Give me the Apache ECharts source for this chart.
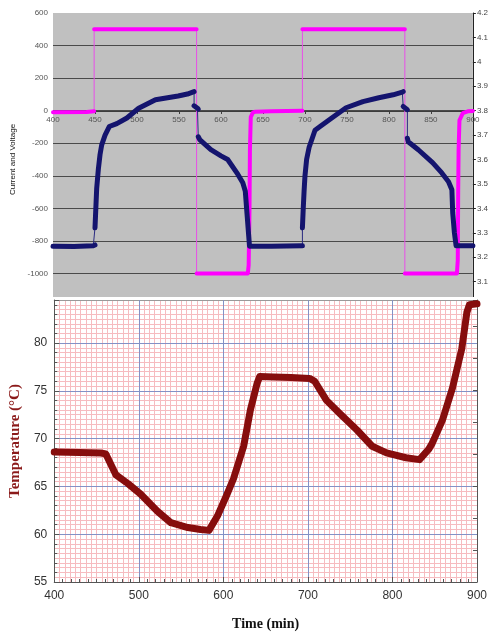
<!DOCTYPE html>
<html>
<head>
<meta charset="utf-8">
<script src="https://cdn.jsdelivr.net/npm/echarts@6/dist/echarts.min.js"></script>
<style>
  html, body { margin: 0; padding: 0; background: #fff; }
  #main { width: 491px; height: 632px; }
</style>
</head>
<body>
<div id="main"></div>
<script>
// top panel: current (mA, left axis) and cell voltage (V, right axis) vs time (min)
const currentTime = [400, 440, 449, 449, 571, 571, 632, 633, 634, 634.5,
  635.5, 638, 641, 660, 697, 697, 819, 819, 881, 882,
  882.5, 883, 884, 888, 894, 900];
const currentValue = [-10, -8, -3, 500, 500, -1000, -1000, -950, -600, -240,
  -40, -12, -6, -3, 0, 500, 500, -1000, -1000, -920,
  -500, -240, -60, -15, -4, -2];

const voltTime = [400, 425, 448, 450, 450, 451, 452, 454, 456, 458,
  462, 467, 476, 488, 502, 522, 549, 560, 568, 568,
  569, 572, 573, 573, 575, 588, 600, 608, 620, 626,
  629, 631, 633, 634, 660, 697, 697, 698, 699, 700,
  702, 705, 708, 712, 718, 734, 749, 769, 788, 805,
  816, 817, 817, 819, 822, 822, 823, 835, 852, 863,
  871, 875, 876, 878, 880, 900];
const voltValue = [3.245, 3.244, 3.247, 3.25, 3.32, 3.40, 3.48, 3.56, 3.62, 3.66,
  3.70, 3.735, 3.747, 3.77, 3.81, 3.845, 3.86, 3.868, 3.878, 3.82,
  3.818, 3.81, 3.806, 3.693, 3.68, 3.64, 3.615, 3.6, 3.54, 3.505,
  3.47, 3.38, 3.29, 3.245, 3.245, 3.247, 3.32, 3.40, 3.47, 3.53,
  3.6, 3.65, 3.68, 3.72, 3.735, 3.775, 3.812, 3.837, 3.853, 3.865,
  3.876, 3.878, 3.817, 3.81, 3.804, 3.687, 3.673, 3.64, 3.587, 3.545,
  3.509, 3.476, 3.381, 3.30, 3.247, 3.247];

// bottom panel: temperature (°C) vs time (min)
const tempTime = [400, 430, 455, 461, 467, 473, 487, 502, 522, 538,
  558, 573, 583, 593, 604, 612, 624, 632, 640, 643,
  659, 680, 702, 708, 722, 738, 758, 776, 793, 816,
  832, 843, 847, 859, 871, 882, 888, 891, 900];
const tempValue = [68.6, 68.55, 68.5, 68.4, 67.3, 66.2, 65.3, 64.2, 62.4, 61.2,
  60.7, 60.5, 60.4, 61.9, 64.1, 65.8, 69.2, 73.0, 75.8, 76.5,
  76.45, 76.4, 76.3, 76.0, 74.0, 72.6, 70.9, 69.2, 68.5, 68.0,
  67.8, 68.9, 69.5, 71.9, 75.3, 79.4, 83.2, 84.0, 84.1];

const sans = 'Liberation Sans, Arial, sans-serif';
const serif = 'Liberation Serif, Times New Roman, serif';

function pairs(ts, vs) {
  return ts.map((t, i) => [t, vs[i]]);
}

// dense marker runs look thick; instant jumps (same time twice) stay a thin line
function thickRuns(ts, vs) {
  const out = [];
  for (let i = 0; i < ts.length; i++) {
    if (i > 0 && ts[i] === ts[i - 1]) out.push([ts[i], null]);
    out.push([ts[i], vs[i]]);
  }
  return out;
}

const chart = echarts.init(document.getElementById('main'));

chart.setOption({
  animation: false,
  grid: [
    { left: 53, top: 13, width: 424, height: 293, show: true, backgroundColor: '#c0c0c0', borderWidth: 0 },
    { left: 53, top: 300, width: 424, height: 288 }
  ],
  graphic: [{
    type: 'rect', silent: true, z: 1,
    shape: { x: 0, y: 297, width: 491, height: 335 },
    style: { fill: '#fff' }
  }],
  xAxis: [
    {
      // sits on the zero line of the current axis
      gridIndex: 0, type: 'value', min: 400, max: 900, interval: 50, offset: -195,
      axisLine: { onZero: false, lineStyle: { color: '#3c3c3c' } },
      axisTick: { length: 3, lineStyle: { color: '#3c3c3c' } },
      axisLabel: { fontSize: 8, color: '#555', margin: 5, fontFamily: sans },
      splitLine: { show: false }
    },
    {
      // fine red graph-paper verticals
      gridIndex: 1, type: 'value', position: 'top', min: 400, max: 900, interval: 6.25, z: 2,
      axisLine: { show: true, onZero: false, lineStyle: { color: '#9a9a9a' } },
      axisTick: { show: false },
      axisLabel: { show: false },
      splitLine: { lineStyle: { color: '#f6bcc0', width: 1 } }
    },
    {
      gridIndex: 1, type: 'value', min: 400, max: 900, interval: 100, z: 3,
      axisLine: { onZero: false, lineStyle: { color: '#555' } },
      axisTick: { inside: true, length: 5, lineStyle: { color: '#555' } },
      minorTick: { show: true, splitNumber: 10, length: 3, lineStyle: { color: '#555' } },
      axisLabel: { fontSize: 12, color: '#333', margin: 8, fontFamily: sans },
      splitLine: { lineStyle: { color: '#8392c6', width: 1 } },
      name: 'Time (min)', nameLocation: 'middle', nameGap: 35,
      nameTextStyle: { fontFamily: serif, fontWeight: 'bold', fontSize: 14, color: '#111' }
    }
  ],
  yAxis: [
    {
      gridIndex: 0, type: 'value', min: -1200, max: 600, interval: 200,
      axisLine: { show: false },
      axisTick: { show: false },
      axisLabel: { fontSize: 8, color: '#555', margin: 5, fontFamily: sans, formatter: v => String(v) },
      splitLine: { showMaxLine: false, lineStyle: { color: '#4a4a4a', width: 1 } },
      name: 'Current and Voltage', nameLocation: 'middle', nameGap: 35,
      nameTextStyle: { fontSize: 8, color: '#111', fontFamily: sans }
    },
    {
      gridIndex: 0, type: 'value', position: 'right', min: 3.0, max: 4.2, interval: 0.1,
      axisLine: { show: true, lineStyle: { color: '#222' } },
      axisTick: { show: true, length: 3, lineStyle: { color: '#222' } },
      axisLabel: { fontSize: 8, color: '#444', margin: 4, fontFamily: sans },
      splitLine: { show: false }
    },
    {
      gridIndex: 1, type: 'value', min: 55, max: 84.5, interval: 5, z: 3,
      axisLine: { show: true, lineStyle: { color: '#555' } },
      axisTick: { inside: true, length: 5, lineStyle: { color: '#555' } },
      minorTick: { show: true, splitNumber: 5, length: 3, lineStyle: { color: '#555' } },
      axisLabel: { fontSize: 12, color: '#333', margin: 7, showMaxLabel: false, fontFamily: sans },
      splitLine: { showMaxLine: false, lineStyle: { color: '#8392c6', width: 1 } },
      name: 'Temperature (°C)', nameLocation: 'middle', nameGap: 30,
      nameTextStyle: { fontFamily: serif, fontWeight: 'bold', fontSize: 15, color: '#8b1a1a' }
    },
    {
      // fine red graph-paper horizontals
      gridIndex: 1, type: 'value', min: 55, max: 84.5, interval: 0.5, z: 2,
      axisLine: { show: false },
      axisTick: { show: false },
      axisLabel: { show: false },
      splitLine: { lineStyle: { color: '#f6bcc0', width: 1 } }
    },
    {
      gridIndex: 1, type: 'value', position: 'right', min: 0, max: 8.83, interval: 1, z: 3,
      axisLine: { show: true, lineStyle: { color: '#555' } },
      axisTick: { inside: true, length: 4, lineStyle: { color: '#555' } },
      axisLabel: { show: false },
      splitLine: { show: false }
    }
  ],
  series: [
    {
      type: 'line', xAxisIndex: 0, yAxisIndex: 0, z: 2, symbol: 'none',
      data: pairs(currentTime, currentValue),
      lineStyle: { color: '#e84ee8', width: 1 }
    },
    {
      type: 'line', xAxisIndex: 0, yAxisIndex: 0, z: 2, symbol: 'none', connectNulls: false,
      data: thickRuns(currentTime, currentValue),
      lineStyle: { color: '#ff00ff', width: 4, cap: 'round', join: 'round' }
    },
    {
      type: 'line', xAxisIndex: 0, yAxisIndex: 1, z: 2, symbol: 'none',
      data: pairs(voltTime, voltValue),
      lineStyle: { color: '#2a2a80', width: 1 }
    },
    {
      type: 'line', xAxisIndex: 0, yAxisIndex: 1, z: 2, symbol: 'none', connectNulls: false,
      data: thickRuns(voltTime, voltValue),
      lineStyle: { color: '#14146e', width: 5, cap: 'round', join: 'round' }
    },
    {
      type: 'line', xAxisIndex: 2, yAxisIndex: 2, z: 4, symbol: 'none',
      data: pairs(tempTime, tempValue),
      lineStyle: { color: '#860d0d', width: 7, cap: 'round', join: 'round' }
    }
  ]
});
</script>
</body>
</html>
